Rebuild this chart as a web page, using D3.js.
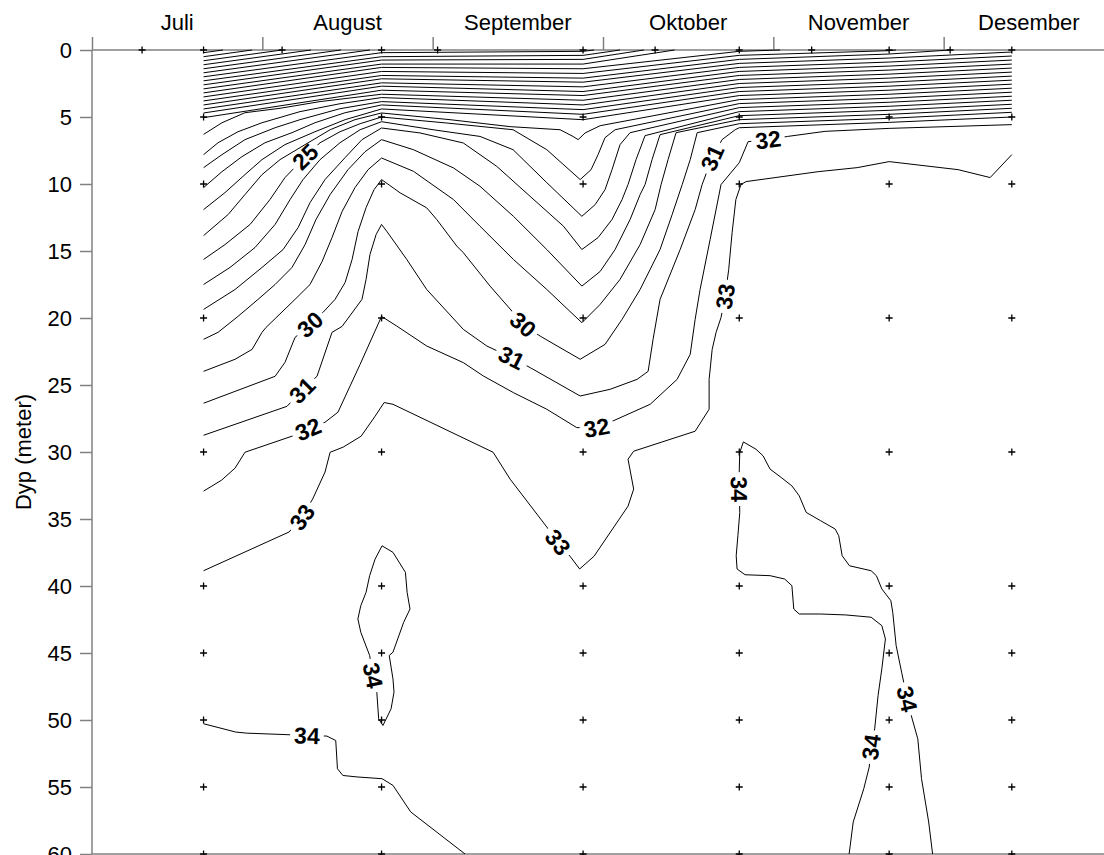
<!DOCTYPE html>
<meta charset="utf-8">

<style>
  body { margin: 0; background: #fff; }
  text { font-family: "Liberation Sans", Arial, sans-serif; }
</style>

<svg class="chart"></svg>

<script src="https://d3js.org/d3.v7.min.js"></script>
<script>

  var width  = 1104;
  var height = 855;

  // x in decimal months (7 = 1 July), y in meters
  var monthNames   = ["Juli", "August", "September", "Oktober", "November", "Desember"];
  var monthStarts  = [7, 8, 9, 10, 11, 12];
  var depthTicks   = [0, 5, 10, 15, 20, 25, 30, 35, 40, 45, 50, 55, 60];

  var stationMonths     = [7.655, 8.70, 9.883, 10.80, 11.68, 12.40];
  var surfaceOnlyMonths = [7.294, 8.116, 9.029, 10.306, 11.225, 12.038];
  var sampleDepths      = [0, 5, 10, 20, 30, 40, 45, 50, 55, 60];

  // salinity isolines, [month, depth]
  var c02 = [[7.655,0.2],[7.769,0]];
  var c03 = [[7.655,0.5],[7.94,0]];
  var c04 = [[7.655,0.8],[8.116,0]];
  var c05 = [[7.655,1.1],[8.286,0]];
  var c06 = [[7.655,1.4],[8.462,0]];
  var c07 = [[7.655,1.7],[8.632,0]];
  var c08 = [[7.655,2.0],[8.70,0.2],[9.883,0.1],[9.948,0]];
  var c09 = [[7.655,2.3],[8.70,0.5],[9.883,0.4],[10.10,0]];
  var c10 = [[7.655,2.6],[8.70,0.75],[9.883,0.7],[10.24,0]];
  var c11 = [[7.655,2.9],[8.70,1.05],[9.883,1.05],[10.42,0]];
  var c12 = [[7.655,3.2],[8.70,1.3],[9.883,1.4],[10.80,0.1],[11.04,0]];
  var c13 = [[7.655,3.5],[8.70,1.6],[9.883,1.75],[10.80,0.4],[11.68,0.05],[11.72,0]];
  var c14 = [[7.655,3.8],[8.70,1.9],[9.883,2.1],[10.80,0.7],[11.68,0.3],[12.04,0]];
  var c15 = [[7.655,4.1],[8.70,2.15],[9.883,2.4],[10.80,1.0],[11.68,0.6],[12.40,0.15]];
  var c16 = [[7.655,4.4],[8.70,2.45],[9.883,2.75],[10.80,1.3],[11.68,0.9],[12.40,0.45]];
  var c17 = [[7.655,4.7],[8.70,2.7],[9.883,3.1],[10.80,1.6],[11.68,1.2],[12.40,0.75]];
  var c18 = [[7.655,5.05],[8.70,3.0],[9.883,3.4],[10.80,1.9],[11.68,1.5],[12.40,1.05]];
  var c19 = [[7.655,6.3],[7.763,5.43],[7.898,4.68],[8.104,4.35],[8.339,3.85],[8.70,3.3],[9.883,3.75],[10.80,2.2],[11.68,1.8],[12.40,1.35]];
  var c20 = [[7.655,7.81],[7.74,6.92],[7.857,6.1],[7.998,5.43],[8.221,4.6],[8.456,4.01],[8.70,3.55],[9.883,4.1],[10.80,2.5],[11.68,2.1],[12.40,1.65]];
  var c21 = [[7.655,8.78],[7.763,7.81],[7.898,6.69],[8.075,5.80],[8.221,5.20],[8.456,4.38],[8.70,3.85],[9.883,4.45],[10.80,2.8],[11.68,2.4],[12.40,1.95]];
  var c22 = [[7.655,10.27],[7.763,9.08],[7.88,7.96],[8.016,6.92],[8.174,6.17],[8.309,5.43],[8.486,4.68],[8.70,4.1],[9.883,4.8],[10.80,3.1],[11.68,2.7],[12.40,2.25]];
  var c23 = [[7.655,11.91],[7.781,10.64],[7.898,9.30],[7.998,8.18],[8.133,7.06],[8.309,6.10],[8.486,5.20],[8.70,4.4],[9.883,5.2],[10.80,3.4],[11.68,3.0],[12.40,2.55]];
  var c24 = [[7.655,13.85],[7.799,12.28],[7.898,10.79],[7.998,9.30],[8.104,8.18],[8.251,7.06],[8.398,5.95],[8.544,5.20],[8.70,4.7],
             [9.102,5.2],[9.455,5.72],[9.748,5.95],[9.824,6.45],[9.854,6.69],[9.895,6.19],[9.983,5.65],[10.80,3.7],[11.68,3.3],[12.40,2.85]];
  var c25 = [[7.655,15.63],[7.781,14.52],[7.928,13.02],[8.045,11.16],[8.133,9.52],[8.251,7.96],[8.339,6.92],[8.456,6.10],[8.574,5.50],[8.70,5.0],
             [9.083,5.45],[9.472,5.95],[9.67,7.44],[9.866,9.67],[9.93,8.93],[9.971,7.81],[10.012,6.54],[10.071,5.95],[10.80,4.0],[11.68,3.6],[12.40,3.15]];
  var c26 = [[7.655,17.50],[7.81,16.23],[7.957,14.74],[8.075,13.02],[8.163,11.16],[8.239,9.67],[8.339,8.18],[8.456,6.92],[8.574,5.95],[8.70,5.35],
             [9.002,5.95],[9.278,6.45],[9.472,7.44],[9.67,9.90],[9.876,12.41],[9.954,11.54],[10.012,10.42],[10.053,8.93],[10.10,7.06],[10.159,6.17],
             [10.80,4.3],[11.68,3.9],[12.40,3.45]];
  var c27 = [[7.655,19.36],[7.84,17.87],[7.998,16.23],[8.122,14.89],[8.21,13.25],[8.28,11.39],[8.368,9.67],[8.486,8.03],[8.585,6.69],[8.70,5.82],
             [8.926,6.19],[9.18,6.94],[9.376,8.68],[9.572,10.92],[9.768,13.15],[9.876,14.89],[9.971,14.00],[10.053,12.65],[10.112,11.16],[10.147,10.04],
             [10.194,8.18],[10.247,6.39],[10.80,4.6],[11.68,4.2],[12.40,3.75]];
  var c28 = [[7.655,21.59],[7.74,21.07],[7.857,19.88],[7.975,18.61],[8.075,17.50],[8.174,16.23],[8.251,14.52],[8.315,12.65],[8.398,10.79],[8.503,8.93],
             [8.603,7.59],[8.70,6.69],[8.887,7.44],[9.122,8.80],[9.278,10.17],[9.474,12.41],[9.67,14.89],[9.876,17.62],[9.983,16.53],[10.071,14.89],
             [10.159,12.65],[10.218,10.79],[10.247,10.04],[10.288,8.18],[10.335,6.32],[10.80,4.9],[11.68,4.5],[12.40,4.05]];
  var c29 = [[7.655,23.98],[7.84,23.08],[7.94,22.34],[7.998,21.07],[8.022,20.70],[8.192,18.61],[8.28,17.50],[8.351,15.78],[8.409,14.00],[8.468,12.06],
             [8.544,10.27],[8.621,8.93],[8.70,8.06],[8.887,9.05],[9.122,11.16],[9.278,13.15],[9.474,15.63],[9.67,17.87],[9.876,20.35],[9.983,18.99],
             [10.10,17.12],[10.218,14.52],[10.306,11.91],[10.341,10.04],[10.382,8.18],[10.429,6.17],[10.80,5.2],[11.68,4.8],[12.40,4.35]];
  var c30 = [[7.655,26.36],[8.075,24.35],[8.133,23.31],[8.192,21.45],[8.28,20.48],[8.356,19.58],[8.427,18.61],[8.486,17.35],[8.527,15.63],[8.562,13.55],
             [8.609,11.76],[8.656,10.42],[8.70,9.67],[8.809,10.66],[8.965,11.78],[9.024,12.65],[9.142,14.64],[9.179,15.11],[9.337,17.62],[9.474,19.61],
             [9.531,20.48],[9.631,21.35],[9.866,23.08],[10.012,21.97],[10.112,20.10],[10.218,17.87],[10.335,14.89],[10.406,12.28],[10.465,10.04],
             [10.512,8.18],[10.553,6.17],[10.80,5.5],[11.68,5.1],[12.40,4.65]];
  var c31 = [[7.655,28.75],[8.145,26.59],[8.233,25.39],[8.321,24.35],[8.409,21.07],[8.468,20.63],[8.585,18.61],[8.609,17.12],[8.632,15.26],[8.668,13.77],
             [8.70,13.02],[8.73,13.52],[8.848,15.63],[8.965,17.87],[9.18,20.85],[9.318,22.09],[9.464,22.96],[9.572,23.70],[9.866,25.82],[10.042,25.32],
             [10.2,24.58],[10.265,23.98],[10.294,21.59],[10.335,18.61],[10.453,14.89],[10.541,11.91],[10.582,10.04],[10.641,8.03],[10.699,6.69],
             [10.776,5.95],[10.80,5.8],[11.68,5.4],[12.40,5.0]];
  var c32 = [[7.655,32.92],[7.761,32.1],[7.84,31.2],[7.898,30.02],[7.916,29.94],[8.174,28.82],[8.268,28.30],[8.368,27.78],[8.444,27.03],[8.574,23.46],
             [8.70,19.88],[8.789,20.60],[8.965,22.09],[9.18,23.33],[9.298,24.33],[9.474,25.57],[9.67,26.81],[9.846,28.18],[9.963,28.18],[10.059,27.68],
             [10.277,26.44],[10.435,24.58],[10.512,22.71],[10.541,20.10],[10.57,17.87],[10.629,14.14],[10.693,10.04],[10.80,8.41],[10.852,6.84],
             [10.969,6.69],[11.084,6.45],[11.304,6.07],[11.68,5.85],[12.40,5.57]];
  var c33 = [[7.655,38.86],[8.157,35.97],[8.233,34.86],[8.295,33.52],[8.368,31.50],[8.398,30.02],[8.474,29.64],[8.58,28.82],[8.662,27.33],[8.715,26.31],
             [8.767,26.44],[9.355,30.02],[9.455,32.03],[9.666,35.53],[9.736,36.72],[9.81,37.84],[9.863,38.73],[9.948,37.77],[10.147,34.04],[10.18,32.77],
             [10.147,30.54],[10.18,29.94],[10.541,28.45],[10.623,26.81],[10.623,24.58],[10.641,22.34],[10.664,21.07],[10.693,19.96],[10.717,18.39],
             [10.738,16.38],[10.758,13.62],[10.78,11.16],[10.81,10.04],[10.84,9.82],[11.263,9.08],[11.492,8.78],[11.68,8.33],[12.085,8.93],
             [12.273,9.52],[12.40,7.81]];
  var c34a = [[7.655,50.28],[7.844,50.90],[7.907,50.98],[8.262,51.15],[8.379,51.20],[8.431,51.53],[8.441,53.64],[8.473,54.14],[8.556,54.25],
              [8.703,54.38],[8.767,54.88],[8.871,56.86],[9.19,60]];
  var c34b = [[8.703,37.0],[8.767,37.49],[8.84,38.98],[8.85,40.47],[8.867,41.72],[8.83,42.70],[8.767,44.94],[8.745,45.19],[8.767,46.93],[8.773,47.92],
              [8.756,49.16],[8.708,50.41],[8.683,49.91],[8.672,47.92],[8.65,46.68],[8.63,45.19],[8.578,43.45],[8.561,42.46],[8.578,41.47],[8.609,40.47],
              [8.63,39.23],[8.662,37.99],[8.703,37.0]];
  var c34c = [[11.445,60],[11.469,57.61],[11.531,55.13],[11.563,53.51],[11.574,52.02],[11.595,50.66],[11.615,48.17],[11.637,46.18],[11.658,43.95],
              [11.637,42.96],[11.574,42.33],[11.426,42.16],[11.278,42.09],[11.152,42.09],[11.12,41.72],[11.109,39.98],[11.067,39.48],[10.981,39.23],
              [10.834,39.16],[10.787,38.73],[10.782,37.74],[10.792,36.25],[10.803,34.51],[10.80,32.77],[10.80,31.28],[10.803,30.04],[10.824,29.25],
              [10.898,29.79],[10.94,30.29],[10.981,31.28],[11.046,31.90],[11.109,32.53],[11.152,33.27],[11.193,34.51],[11.278,35.13],[11.363,35.75],
              [11.384,36.25],[11.404,37.74],[11.447,38.49],[11.574,38.86],[11.605,39.23],[11.637,40.22],[11.69,41.10],[11.701,41.96],[11.721,44.45],
              [11.753,46.43],[11.786,48.42],[11.815,49.91],[11.848,51.40],[11.87,54.38],[11.912,57.61],[11.935,60]];

  // [level, month, depth] of each inline label
  var labelSpecs = [
    [25, 8.251, 7.96], [30, 8.28, 20.48], [31, 8.233, 25.39], [32, 8.268, 28.30], [33, 8.233, 34.86],
    [34, 8.262, 51.15], [34, 8.65, 46.68], [30, 9.531, 20.48], [31, 9.464, 22.96], [32, 9.963, 28.18],
    [33, 9.736, 36.72], [31, 10.641, 8.03], [32, 10.969, 6.69], [33, 10.717, 18.39], [34, 10.80, 32.77],
    [34, 11.574, 52.02], [34, 11.786, 48.42]
  ];

  var contourList = [
    [2, c02], [3, c03], [4, c04], [5, c05], [6, c06], [7, c07], [8, c08], [9, c09], [10, c10], [11, c11],
    [12, c12], [13, c13], [14, c14], [15, c15], [16, c16], [17, c17], [18, c18], [19, c19], [20, c20], [21, c21],
    [22, c22], [23, c23], [24, c24], [25, c25], [26, c26], [27, c27], [28, c28], [29, c29], [30, c30], [31, c31],
    [32, c32], [33, c33], [34, c34a], [34, c34b], [34, c34c]
  ].map(function(d) { return { level: d[0], pts: d[1], labels: [] }; });

  var axisColor = "#808080";

  var x = d3.scaleLinear().domain([7, 13]).range([92, 1114]);
  var y = d3.scaleLinear().domain([0, 60]).range([50, 854]);

  var chart = d3.select(".chart")
      .attr("width", width)
      .attr("height", height);

  var defs = chart.append("defs");

  // axes
  var yAxis = chart.append("g")
      .attr("transform", "translate(" + x(7) + ",0)")
      .call(d3.axisLeft(y).tickValues(depthTicks).tickSize(12).tickSizeOuter(0).tickPadding(8));
  yAxis.attr("font-size", 22).attr("font-family", "Liberation Sans, Arial, sans-serif");
  yAxis.select(".domain").remove();
  yAxis.selectAll("line").attr("stroke", axisColor).attr("stroke-width", 1.5);
  yAxis.selectAll("text").attr("fill", "#000");

  var xAxis = chart.append("g")
      .attr("transform", "translate(0," + y(0) + ")")
      .call(d3.axisTop(x).tickValues(monthStarts).tickSize(13).tickSizeOuter(0).tickFormat(""));
  xAxis.select(".domain").remove();
  xAxis.selectAll("line").attr("stroke", axisColor).attr("stroke-width", 1.5);

  chart.append("line")
      .attr("x1", x(7)).attr("x2", width)
      .attr("y1", y(0)).attr("y2", y(0))
      .attr("stroke", axisColor).attr("stroke-width", 1.5);
  chart.append("line")
      .attr("x1", x(7)).attr("x2", width)
      .attr("y1", y(60)).attr("y2", y(60))
      .attr("stroke", axisColor).attr("stroke-width", 1.5);
  chart.append("line")
      .attr("x1", x(7)).attr("x2", x(7))
      .attr("y1", y(0)).attr("y2", y(60))
      .attr("stroke", axisColor).attr("stroke-width", 1.5);

  chart.append("g")
    .selectAll("text")
    .data(monthNames)
    .enter().append("text")
      .attr("x", function(d, i) { return x(monthStarts[i] + 0.5); })
      .attr("y", 30)
      .attr("text-anchor", "middle")
      .attr("font-size", 22)
      .text(function(d) { return d; });

  chart.append("text")
      .attr("transform", "translate(31," + y(30) + ") rotate(-90)")
      .attr("text-anchor", "middle")
      .attr("font-size", 22)
      .text("Dyp (meter)");

  // contour lines + labels
  var lineGen = d3.line()
      .x(function(p) { return x(p[0]); })
      .y(function(p) { return y(p[1]); });

  var pathLayer  = chart.append("g");
  var labelLayer = chart.append("g");

  labelSpecs.forEach(function(s) {
    var best = null;
    contourList.forEach(function(c, ci) {
      if (c.level !== s[0]) return;
      c.pts.forEach(function(p, k) {
        var dx = x(p[0]) - x(s[1]), dy = y(p[1]) - y(s[2]);
        var dist = dx * dx + dy * dy;
        if (!best || dist < best.dist) best = { ci: ci, k: k, dist: dist };
      });
    });
    var pts = contourList[best.ci].pts;
    var a = pts[Math.max(best.k - 1, 0)];
    var b = pts[Math.min(best.k + 1, pts.length - 1)];
    var ang = Math.atan2(y(b[1]) - y(a[1]), x(b[0]) - x(a[0])) * 180 / Math.PI;
    if (ang > 90) ang -= 180;
    if (ang <= -90) ang += 180;
    var px = x(pts[best.k][0]), py = y(pts[best.k][1]);

    var t = labelLayer.append("text")
        .attr("transform", "translate(" + px + "," + py + ") rotate(" + ang + ")")
        .attr("text-anchor", "middle")
        .attr("dy", "0.36em")
        .attr("font-size", 23)
        .attr("font-weight", "bold")
        .text(s[0]);
    var w = t.node().getBBox().width;
    contourList[best.ci].labels.push({ px: px, py: py, ang: ang, w: w });
  });

  contourList.forEach(function(c, ci) {
    var path = pathLayer.append("path")
        .attr("d", lineGen(c.pts))
        .attr("fill", "none")
        .attr("stroke", "#000")
        .attr("stroke-width", 1)
        .attr("stroke-linejoin", "round");

    if (c.labels.length) {
      var mask = defs.append("mask")
          .attr("id", "m" + ci)
          .attr("maskUnits", "userSpaceOnUse")
          .attr("x", 0).attr("y", 0)
          .attr("width", width).attr("height", height);
      mask.append("rect")
          .attr("width", width).attr("height", height)
          .attr("fill", "#fff");
      c.labels.forEach(function(l) {
        mask.append("rect")
            .attr("transform", "translate(" + l.px + "," + l.py + ") rotate(" + l.ang + ")")
            .attr("x", -l.w / 2 - 4).attr("y", -12)
            .attr("width", l.w + 8).attr("height", 24)
            .attr("fill", "#000");
      });
      path.attr("mask", "url(#m" + ci + ")");
    }
  });

  // sample positions
  var samples = [];
  stationMonths.forEach(function(m) {
    sampleDepths.forEach(function(d) { samples.push([m, d]); });
  });
  surfaceOnlyMonths.forEach(function(m) { samples.push([m, 0]); });

  chart.append("g")
    .selectAll("path")
    .data(samples)
    .enter().append("path")
      .attr("transform", function(d) { return "translate(" + x(d[0]) + "," + y(d[1]) + ")"; })
      .attr("d", "M-3.5,0H3.5M0,-3.5V3.5")
      .attr("stroke", "#000")
      .attr("stroke-width", 1.3);

</script>
